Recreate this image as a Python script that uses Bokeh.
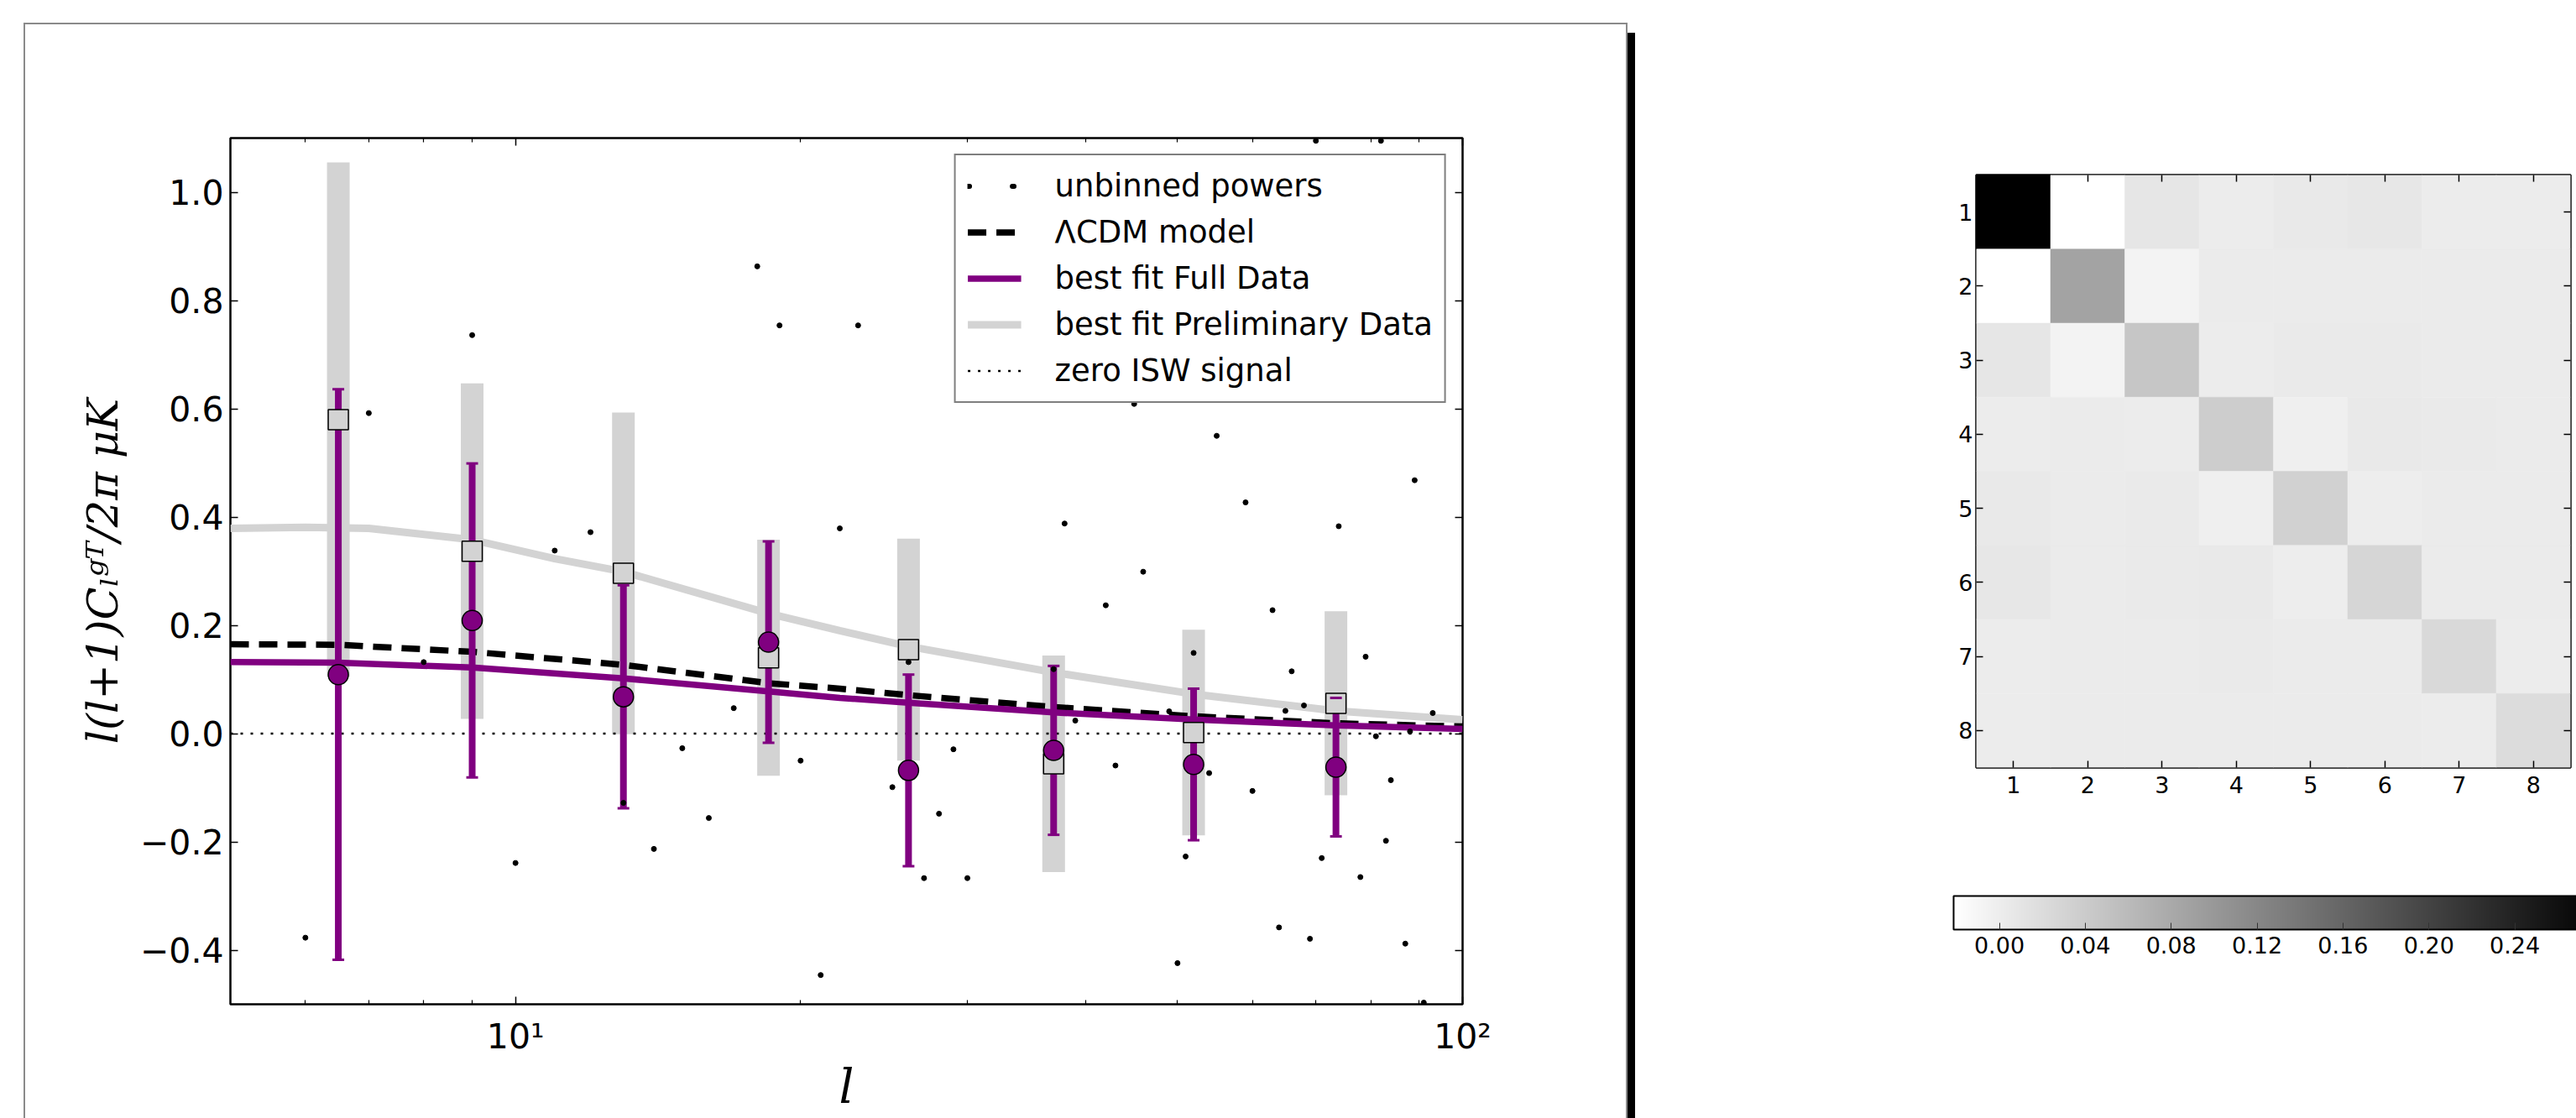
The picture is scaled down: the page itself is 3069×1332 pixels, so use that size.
import math
from bokeh.plotting import figure
from bokeh.models import (ColumnDataSource, FixedTicker, LogAxis, LinearAxis, Legend, LegendItem,
                          LinearColorMapper, ColorBar, PrintfTickFormatter, Range1d)
from bokeh.embed import file_html
from bokeh.resources import INLINE
from bokeh.transform import transform

# ---------------- data ----------------
unbinned_l = [6, 7, 8, 9, 10, 11, 12, 13, 14, 15, 16, 17, 18, 19, 20, 21, 22, 23,
              25, 26, 27, 28, 29, 30, 37, 38, 39, 42, 43, 45, 46, 49, 50, 51, 52,
              54, 55, 59, 60, 63, 64, 65, 66, 68, 69, 70, 71, 74, 78, 79, 81, 82,
              83, 84, 87, 88, 89, 91, 93]
unbinned_power = [-0.377, 0.592, 0.132, 0.736, -0.239, 0.338, 0.372, -0.128, -0.213,
                  -0.027, -0.156, 0.047, 0.863, 0.754, -0.050, -0.446, 0.379, 0.754,
                  -0.099, 0.132, -0.267, -0.148, -0.029, -0.267, 0.119, 0.388, 0.024,
                  0.237, -0.059, 0.609, 0.299, 0.041, -0.424, -0.227, 0.149, -0.073,
                  0.550, 0.427, -0.106, 0.228, -0.358, 0.042, 0.115, 0.052, -0.379,
                  1.095, -0.230, 0.383, -0.265, 0.142, -0.005, 1.095, -0.198, -0.086,
                  -0.388, 0.004, 0.468, -0.497, 0.038]

bin_l = [6.5, 9, 13, 18.5, 26, 37, 52, 73.5]
full_power = [0.109, 0.209, 0.068, 0.169, -0.068, -0.031, -0.057, -0.062]
full_error = [0.527, 0.290, 0.206, 0.186, 0.177, 0.156, 0.140, 0.128]
prelim_power = [0.580, 0.337, 0.296, 0.140, 0.155, -0.056, 0.002, 0.056]
prelim_error = [0.475, 0.310, 0.297, 0.218, 0.205, 0.200, 0.190, 0.170]

model_l = [5, 6.5, 9, 13, 18.5, 22, 26, 37, 52, 73.5, 100]
lcdm_model = [0.165, 0.164, 0.151, 0.127, 0.093, 0.083, 0.071, 0.049, 0.032, 0.019, 0.013]
full_fit = [0.132, 0.131, 0.122, 0.102, 0.078, 0.066, 0.057, 0.039, 0.026, 0.015, 0.0086]

prelim_fit_l = [5, 6, 7, 9, 11, 13, 18.5, 22, 26, 37, 52, 73.5, 100]
prelim_fit = [0.379, 0.381, 0.379, 0.358, 0.323, 0.299, 0.222, 0.190, 0.161, 0.113, 0.073, 0.042, 0.0255]

zero_l = [5, 100]
zero_signal = [0.0, 0.0]

y_ticks = [-0.4, -0.2, 0, 0.2, 0.4, 0.6, 0.8, 1]
y_tick_labels = ["−0.4", "−0.2", "0.0", "0.2", "0.4", "0.6", "0.8", "1.0"]
x_ticks = [10, 100]
x_tick_labels = ["10¹", "10²"]
x_minor = [6, 7, 8, 9, 20, 30, 40, 50, 60, 70, 80, 90]

cov_matrix = [
    [0.2800, -0.0213, 0.0082, 0.0011, 0.0047, 0.0071, 0.0011, 0.0011],
    [-0.0213, 0.0874, -0.0071, 0.0023, 0.0023, 0.0023, 0.0023, 0.0023],
    [0.0082, -0.0071, 0.0461, 0.0011, 0.0035, 0.0035, 0.0023, 0.0023],
    [0.0011, 0.0023, 0.0011, 0.0378, -0.0024, 0.0047, 0.0035, 0.0023],
    [0.0047, 0.0023, 0.0035, -0.0024, 0.0330, 0.0000, 0.0023, 0.0023],
    [0.0071, 0.0023, 0.0035, 0.0047, 0.0000, 0.0272, 0.0023, 0.0023],
    [0.0011, 0.0023, 0.0023, 0.0035, 0.0023, 0.0023, 0.0236, 0.0011],
    [0.0011, 0.0023, 0.0023, 0.0023, 0.0023, 0.0023, 0.0011, 0.0200],
]
bin_ticks = [1, 2, 3, 4, 5, 6, 7, 8]
cbar_ticks = [0.0, 0.04, 0.08, 0.12, 0.16, 0.20, 0.24]

PURPLE = "#800080"
LGRAY = "#d3d3d3"


def style_axis(ax, labels=True, size="41px", standoff=8, major_in=9, minor_in=5):
    ax.axis_line_color = None
    ax.major_tick_in = major_in
    ax.major_tick_out = 0
    ax.minor_tick_in = minor_in
    ax.minor_tick_out = 0
    ax.major_tick_line_color = "black"
    ax.major_tick_line_width = 1.5
    ax.minor_tick_line_color = "black"
    ax.minor_tick_line_width = 1.2
    if labels:
        ax.major_label_text_font = "DejaVu Sans"
        ax.major_label_text_font_size = size
        ax.major_label_text_color = "black"
        ax.major_label_standoff = standoff
    else:
        ax.major_label_text_font_size = "2px"
        ax.major_label_text_color = None
        ax.major_label_standoff = 0


# ---------------- left panel (framed box with a shadow) ----------------
p = figure(width=1907, height=1303, x_axis_type="log",
           x_range=Range1d(5, 100), y_range=Range1d(-0.5, 1.1),
           output_backend="svg", toolbar_location=None,
           min_border_left=244, min_border_right=195, min_border_top=135, min_border_bottom=136,
           margin=(29, 13, 0, 30),
           styles={"outline": "2px solid #8a8a8a", "box-shadow": "11px 10px 0px 0px #000000"})
p.grid.visible = False
p.outline_line_color = "black"
p.outline_line_width = 2.5
p.background_fill_color = "white"
p.border_fill_color = "white"

xt = FixedTicker(ticks=x_ticks, minor_ticks=x_minor)
yt = FixedTicker(ticks=y_ticks, minor_ticks=[])

xb = p.xaxis[0]
xb.ticker = xt
xb.major_label_overrides = dict(zip(x_ticks, x_tick_labels))
style_axis(xb, standoff=14)
xb.axis_label = "l"
xb.axis_label_text_font = "DejaVu Serif"
xb.axis_label_text_font_style = "italic"
xb.axis_label_text_font_size = "56px"
xb.axis_label_text_color = "black"
xb.axis_label_standoff = 0

yl = p.yaxis[0]
yl.ticker = yt
yl.major_label_overrides = dict(zip(y_ticks, y_tick_labels))
style_axis(yl, standoff=8)
yl.axis_label = "l(l+1)Cₗᵍᵀ/2π μK"
yl.axis_label_text_font = "DejaVu Serif"
yl.axis_label_text_font_style = "italic"
yl.axis_label_text_font_size = "51px"
yl.axis_label_text_color = "black"
yl.axis_label_standoff = 12

xtop = LogAxis(ticker=xt)
style_axis(xtop, labels=False)
p.add_layout(xtop, "above")
yright = LinearAxis(ticker=yt)
style_axis(yright, labels=False)
p.add_layout(yright, "right")

bins = ColumnDataSource(dict(
    l=bin_l,
    full=full_power,
    full_lo=[v - e for v, e in zip(full_power, full_error)],
    full_hi=[v + e for v, e in zip(full_power, full_error)],
    pre=prelim_power,
    pre_lo=[v - e for v, e in zip(prelim_power, prelim_error)],
    pre_hi=[v + e for v, e in zip(prelim_power, prelim_error)],
))

p.segment(x0="l", y0="pre_lo", x1="l", y1="pre_hi", source=bins, line_color=LGRAY, line_width=27)
r_pre = p.line(prelim_fit_l, prelim_fit, line_color=LGRAY, line_width=9)
r_lcdm = p.line(model_l, lcdm_model, line_color="black", line_width=7.5, line_dash="22 12")
r_full = p.line(model_l, full_fit, line_color=PURPLE, line_width=7.5)
r_zero = p.line(zero_l, zero_signal, line_color="black", line_width=2.5, line_dash="3 9")
p.segment(x0="l", y0="full_lo", x1="l", y1="full_hi", source=bins, line_color=PURPLE, line_width=8)
p.scatter(x="l", y="pre", source=bins, marker="square", size=24,
          fill_color=LGRAY, line_color="black", line_width=1.5)
p.scatter(x="l", y="full_hi", source=bins, marker="dash", size=14, line_color=PURPLE, line_width=3)
p.scatter(x="l", y="full_lo", source=bins, marker="dash", size=14, line_color=PURPLE, line_width=3)
p.scatter(x="l", y="full", source=bins, marker="circle", size=24,
          fill_color=PURPLE, line_color="black", line_width=1.5)
p.scatter(unbinned_l, unbinned_power, marker="circle", size=6,
          fill_color="black", line_color="black")

# legend handle for the unbinned powers: two small dots, as in the original legend
# (a hidden renderer used only by the legend)
r_dots = p.line(unbinned_l, unbinned_power, line_color="black", line_width=6,
                line_dash="2 51", line_cap="round", visible=False)

legend = Legend(items=[
    LegendItem(label="unbinned powers", renderers=[r_dots]),
    LegendItem(label="ΛCDM model", renderers=[r_lcdm]),
    LegendItem(label="best fit Full Data", renderers=[r_full]),
    LegendItem(label="best fit Preliminary Data", renderers=[r_pre]),
    LegendItem(label="zero ISW signal", renderers=[r_zero]),
], location="top_right")
legend.border_line_color = "black"
legend.border_line_width = 2
legend.background_fill_color = "white"
legend.background_fill_alpha = 1
legend.inactive_fill_alpha = 0
legend.label_text_font = "DejaVu Sans"
legend.label_text_font_size = "37px"
legend.label_text_color = "black"
legend.glyph_width = 64
legend.glyph_height = 45
legend.label_height = 45
legend.spacing = 10
legend.padding = 14
legend.label_standoff = 40
legend.margin = 19
p.add_layout(legend)

# ---------------- right panel: matrix ----------------
flat_cols, flat_rows, flat_vals = [], [], []
for ri, row_vals in enumerate(cov_matrix):
    for ci, v in enumerate(row_vals):
        flat_cols.append(bin_ticks[ci])
        flat_rows.append(bin_ticks[ri])
        flat_vals.append(v)

grays = ["#%02x%02x%02x" % (g, g, g) for g in range(255, -1, -1)]
mapper = LinearColorMapper(palette=grays, low=min(flat_vals), high=max(flat_vals))

hm = figure(width=1119, height=1332, x_range=Range1d(0.5, 8.5), y_range=Range1d(8.5, 0.5),
            output_backend="svg", toolbar_location=None,
            min_border_left=404, min_border_right=7, min_border_top=208, min_border_bottom=418,
            margin=(-1332, 0, 0, 1950))
hm.grid.visible = False
hm.outline_line_color = "black"
hm.outline_line_width = 2.5
hm.rect(x="col", y="row", width=1, height=1,
        source=ColumnDataSource(dict(col=flat_cols, row=flat_rows, v=flat_vals)),
        fill_color=transform("v", mapper), line_color=transform("v", mapper), line_width=0.5)

bt = FixedTicker(ticks=bin_ticks, minor_ticks=[])
hx = hm.xaxis[0]
hx.ticker = bt
style_axis(hx, size="27px", standoff=10, major_in=8)
hy = hm.yaxis[0]
hy.ticker = bt
style_axis(hy, size="27px", standoff=4, major_in=8)
htop = LinearAxis(ticker=bt)
style_axis(htop, labels=False, major_in=8)
hm.add_layout(htop, "above")
hright = LinearAxis(ticker=bt)
style_axis(hright, labels=False, major_in=8)
hm.add_layout(hright, "right")

cb = ColorBar(color_mapper=mapper, orientation="horizontal", width=771, height=40, padding=0,
              ticker=FixedTicker(ticks=cbar_ticks, minor_ticks=[]),
              formatter=PrintfTickFormatter(format="%.2f"),
              major_label_text_font="DejaVu Sans", major_label_text_font_size="27px",
              major_label_text_color="black",
              bar_line_color="black", bar_line_width=2,
              major_tick_in=8, major_tick_out=0, major_tick_line_color="#333333",
              minor_tick_line_color=None,
              label_standoff=8, location=(-27, -224),
              background_fill_color=None, border_line_color=None)
hm.add_layout(cb)

open("out.html", "w").write(file_html([p, hm], INLINE))
